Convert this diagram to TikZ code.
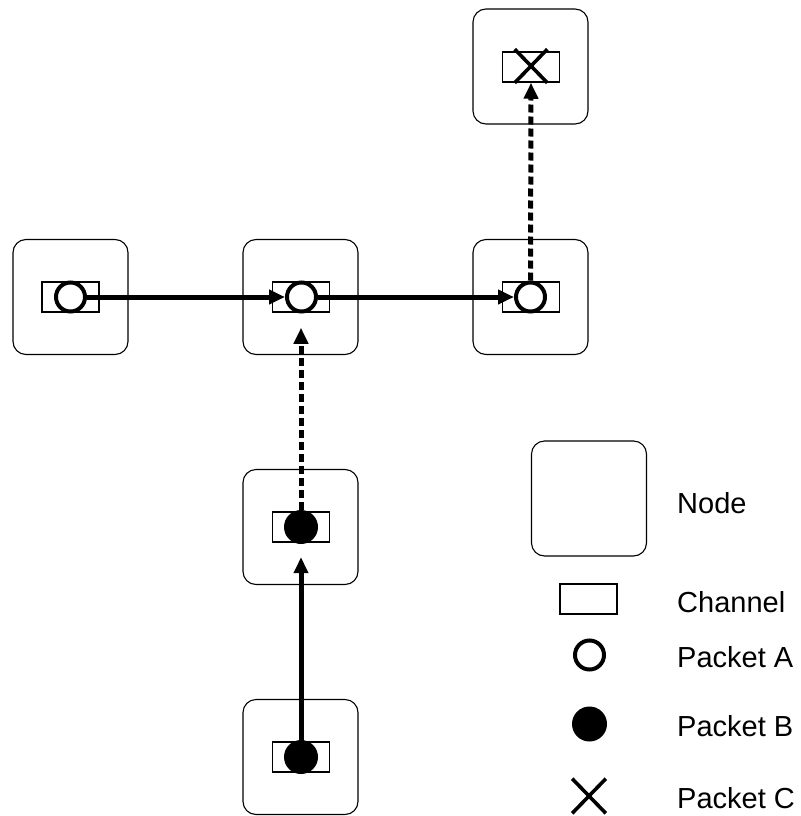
\documentclass[tikz,border=0pt]{standalone}
\usepackage{fontspec}
\setmainfont{Liberation Sans}
\usetikzlibrary{arrows.meta,shapes.misc}
\begin{document}
\begin{tikzpicture}[x=1pt,y=-1pt,
  routerbox/.style={draw,line width=1.1pt,rounded corners=13pt,minimum width=115pt,minimum height=115pt,inner sep=0},
  chanbox/.style={draw,line width=1.5pt,minimum width=57pt,minimum height=30pt,inner sep=0},
  pkta/.style={circle,draw,line width=4pt,minimum size=29pt,inner sep=0,fill=white},
  pktb/.style={circle,fill=black,minimum size=34pt,inner sep=0},
  pktc/.style={cross out,draw,line width=3.6pt,minimum width=29pt,minimum height=30pt,inner sep=0},
  hop/.style={line width=5pt,-{Triangle[length=16pt,width=14pt]}},
  blockedhop/.style={hop,dash pattern=on 8pt off 4pt},
  legendtext/.style={anchor=west,inner sep=0,font=\fontsize{29}{34}\selectfont}]
\useasboundingbox (0,0) rectangle (800,816);

% routers
\node[routerbox] (r1) at (70.5,297) {};
\node[routerbox] (r2) at (300.5,297) {};
\node[routerbox] (r3) at (530.5,297) {};
\node[routerbox] (r4) at (530.5,66.5) {};
\node[routerbox] (r5) at (300.5,527) {};
\node[routerbox] (r6) at (300.5,757) {};

% channels
\node[chanbox] (c1) at (70.5,297) {};
\node[chanbox] (c2) at (301,297) {};
\node[chanbox] (c3) at (531,297) {};
\node[chanbox] (c4) at (531,67) {};
\node[chanbox] (c5) at (301,527) {};
\node[chanbox] (c6) at (301,757) {};

% packets
\node[pktb] (b2) at (301,757) {};
\node[pktb] (b1) at (301,527) {};
\node[pktc] (x1) at (531,66) {};

% hops
\draw[hop] (b2.center) -- ([yshift=-13pt]b1.south);
\draw[blockedhop] (b1.north) -- ([yshift=-15pt]c2.south);
\node[pkta] (a1) at (70.5,297) {};
\node[pkta] (a2) at (301.5,297) {};
\node[pkta] (a3) at (530.5,297) {};
\draw[hop] (a1.east) -- (a2.west);
\draw[hop] (a2.east) -- (a3.west);
\draw[blockedhop] (a3.north) -- (c4.south);

% legend
\node[routerbox] (lr) at (589,498.5) {};
\node[chanbox] (lc) at (588.5,599) {};
\node[pkta] (la) at (589.5,655) {};
\node[pktb,minimum size=35pt] (lb) at (589.5,724) {};
\node[pktc,minimum width=30pt,minimum height=31pt] (lx) at (589,796) {};
\node[legendtext] (tr) at (677,503) {Node};
\node[legendtext] (tc) at (677,602) {Channel};
\node[legendtext] (ta) at (677,657) {Packet A};
\node[legendtext] (tb) at (677,726) {Packet B};
\node[legendtext] (tx) at (677,798) {Packet C};
\end{tikzpicture}
\end{document}
